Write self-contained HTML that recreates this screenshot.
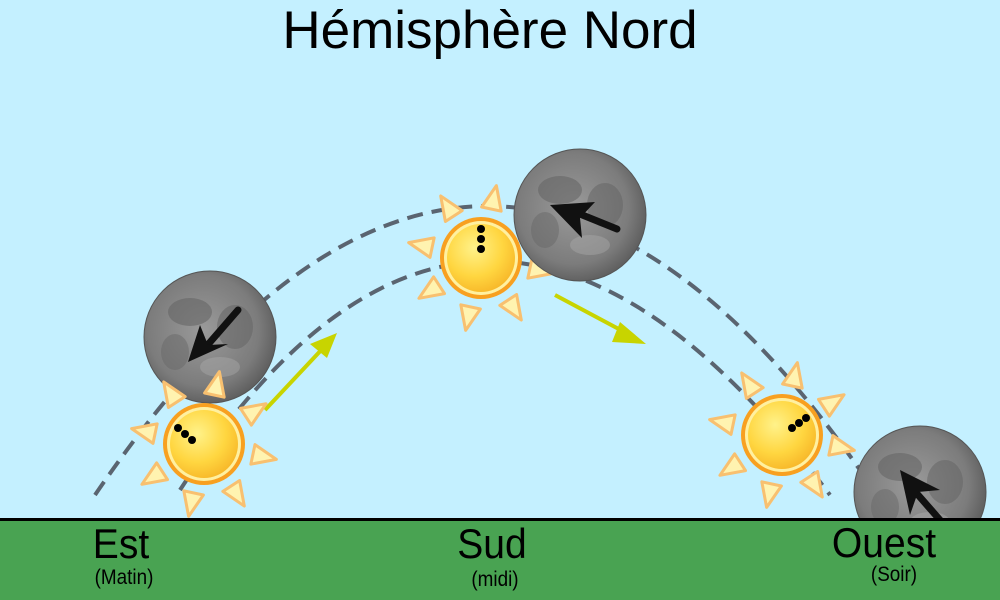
<!DOCTYPE html>
<html><head><meta charset="utf-8"><style>
html,body{margin:0;padding:0;}
body{width:1000px;height:600px;overflow:hidden;background:#c4f0ff;}
svg{display:block;}
</style></head><body>
<svg width="1000" height="600" viewBox="0 0 1000 600" xmlns="http://www.w3.org/2000/svg">
<defs>
  <radialGradient id="sunG" cx="0.4" cy="0.35" r="0.7">
    <stop offset="0" stop-color="#fff28a"/>
    <stop offset="0.6" stop-color="#ffd640"/>
    <stop offset="1" stop-color="#f7b628"/>
  </radialGradient>
  <radialGradient id="moonG" cx="0.45" cy="0.45" r="0.6">
    <stop offset="0" stop-color="#9a9a9a"/>
    <stop offset="0.7" stop-color="#7c7c7c"/>
    <stop offset="1" stop-color="#585858"/>
  </radialGradient>
  <g id="ray"><polygon points="-10,-50 10,-50 0,-74" fill="#fff3b0" stroke="#f8c070" stroke-width="3" stroke-linejoin="round"/></g>
  <g id="sun">
    <g transform="rotate(12)">
    <use href="#ray" transform="rotate(0)"/>
    <use href="#ray" transform="rotate(45)"/>
    <use href="#ray" transform="rotate(90)"/>
    <use href="#ray" transform="rotate(135)"/>
    <use href="#ray" transform="rotate(180)"/>
    <use href="#ray" transform="rotate(225)"/>
    <use href="#ray" transform="rotate(270)"/>
    <use href="#ray" transform="rotate(315)"/>
    </g>
    <circle r="41" fill="#f8a020"/>
    <circle r="37" fill="#fff0a0"/>
    <circle r="34" fill="url(#sunG)"/>
  </g>
  <g id="moon">
    <circle r="66" fill="url(#moonG)"/>
    <ellipse cx="-20" cy="-25" rx="22" ry="14" fill="#666" opacity="0.6"/>
    <ellipse cx="25" cy="-10" rx="18" ry="22" fill="#626262" opacity="0.5"/>
    <ellipse cx="-35" cy="15" rx="14" ry="18" fill="#686868" opacity="0.5"/>
    <ellipse cx="10" cy="30" rx="20" ry="10" fill="#b0b0b0" opacity="0.4"/>
    <circle r="66" fill="none" stroke="#555" stroke-width="1"/>
  </g>
</defs>

<path d="M95,495 Q480,-70 860,470" fill="none" stroke="#5a6470" stroke-width="4" stroke-dasharray="16,9"/>
<path d="M180,490 Q480,30 830,495" fill="none" stroke="#5a6470" stroke-width="4" stroke-dasharray="16,9"/>

<g stroke="#c8d400" stroke-width="4" fill="#c8d400">
  <line x1="265" y1="410" x2="325" y2="346"/>
  <polygon points="337,333 310,344 327,358" stroke="none"/>
  <line x1="555" y1="295" x2="630" y2="335"/>
  <polygon points="646,344 620,322 612,342" stroke="none"/>
</g>

<use href="#moon" x="210" y="337"/>
<g stroke="#111" stroke-width="7" stroke-linecap="round"><line x1="238" y1="310" x2="205" y2="348"/></g>
<polygon points="188,362 200,325 208,345 228,344" fill="#111"/>

<use href="#sun" x="204" y="444"/>
<circle cx="178" cy="428" r="4" fill="#000"/><circle cx="185" cy="434" r="4" fill="#000"/><circle cx="192" cy="440" r="4" fill="#000"/>

<use href="#sun" x="481" y="258"/>
<circle cx="481" cy="229" r="4" fill="#000"/><circle cx="481" cy="239" r="4" fill="#000"/><circle cx="481" cy="249" r="4" fill="#000"/>

<use href="#moon" x="580" y="215"/>
<g stroke="#111" stroke-width="7" stroke-linecap="round"><line x1="617" y1="229" x2="570" y2="210"/></g>
<polygon points="550,205 595,202 580,218 582,238" fill="#111"/>

<use href="#sun" x="782" y="435"/>
<circle cx="806" cy="418" r="4" fill="#000"/><circle cx="799" cy="423" r="4" fill="#000"/><circle cx="792" cy="428" r="4" fill="#000"/>

<use href="#moon" x="920" y="492"/>
<g stroke="#111" stroke-width="7" stroke-linecap="round"><line x1="940" y1="520" x2="912" y2="488"/></g>
<polygon points="900,470 940,490 918,492 910,515" fill="#111"/>

<rect x="0" y="519" width="1000" height="81" fill="#49a352"/>
<rect x="0" y="518" width="1000" height="3" fill="#000"/>

<g font-family="Liberation Sans, sans-serif" fill="#000">
  <text x="490" y="48" font-size="53" text-anchor="middle">Hémisphère Nord</text>
  <text x="121" y="558" font-size="42" text-anchor="middle" transform="translate(121,0) scale(0.93,1) translate(-121,0)">Est</text>
  <text x="492" y="558" font-size="42" text-anchor="middle" transform="translate(492,0) scale(0.93,1) translate(-492,0)">Sud</text>
  <text x="884" y="557" font-size="42" text-anchor="middle" transform="translate(884,0) scale(0.93,1) translate(-884,0)">Ouest</text>
  <text x="124" y="584" font-size="21" text-anchor="middle" transform="translate(124,0) scale(0.9,1) translate(-124,0)">(Matin)</text>
  <text x="495" y="586" font-size="21" text-anchor="middle" transform="translate(495,0) scale(0.9,1) translate(-495,0)">(midi)</text>
  <text x="894" y="581" font-size="21" text-anchor="middle" transform="translate(894,0) scale(0.9,1) translate(-894,0)">(Soir)</text>
</g>
</svg>
</body></html>
